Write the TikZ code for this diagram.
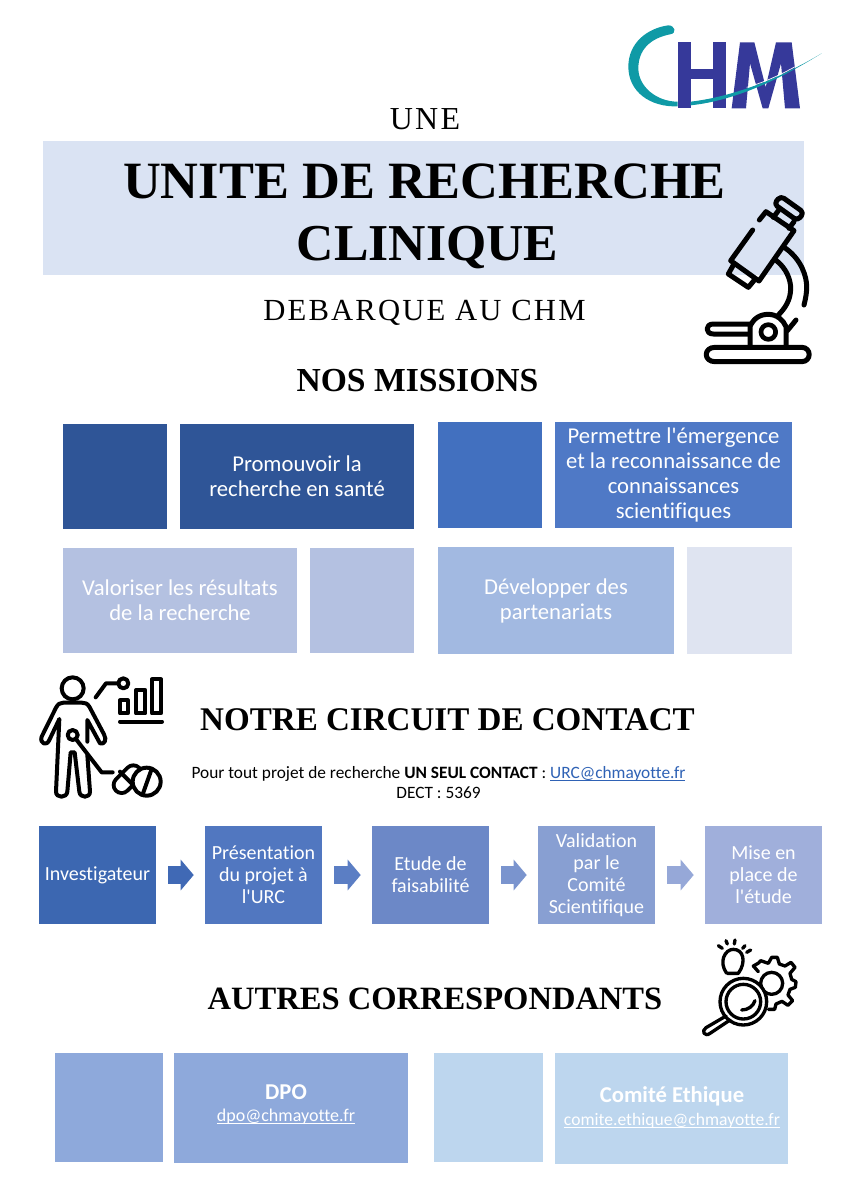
\documentclass[tikz,border=0pt]{standalone}
\usepackage{fontspec}
\usetikzlibrary{arrows.meta}
\newfontfamily\bodyf[Ligatures=NoCommon]{Carlito}
\newfontfamily\heading{Liberation Serif}
\newfontfamily\lighthead[LetterSpace=7]{Liberation Serif}
\AtBeginDocument{\bodyf}
\definecolor{band}{HTML}{DAE3F3}
\definecolor{mA}{HTML}{2F5597}
\definecolor{mB}{HTML}{4F79C6}
\definecolor{mBl}{HTML}{4270BF}
\definecolor{mC}{HTML}{B4C1E1}
\definecolor{mD}{HTML}{A2B9E1}
\definecolor{mE}{HTML}{DFE4F1}
\definecolor{cA}{HTML}{3C67B1}
\definecolor{cB}{HTML}{5177C0}
\definecolor{cC}{HTML}{6C88C7}
\definecolor{cD}{HTML}{889FD2}
\definecolor{cE}{HTML}{A0AFDB}
\definecolor{arA}{HTML}{4069B5}
\definecolor{arB}{HTML}{5B7EC4}
\definecolor{arC}{HTML}{7A94CE}
\definecolor{arD}{HTML}{96A8D8}
\definecolor{oA}{HTML}{8EA9DB}
\definecolor{oB}{HTML}{BDD6EE}
\definecolor{teal}{HTML}{0F9AA6}
\definecolor{chmblue}{HTML}{36399A}
\definecolor{linkblue}{HTML}{2F62B5}
\newsavebox{\mailbox}
\newcommand{\mailu}[1]{\sbox{\mailbox}{#1}\rlap{\rule[-1.7pt]{\wd\mailbox}{0.6pt}}\usebox{\mailbox}}
\tikzset{
  panel/.style={rectangle,inner sep=0pt,text=white,align=center},
  bodytxt/.style={font=\fontsize{17}{18.75}\selectfont},
  stepbox/.style={panel,minimum width=87.75pt,minimum height=73.5pt,font=\fontsize{15}{16.5}\selectfont},
  flow/.style={line width=13.5pt,-{Triangle[length=9.75pt,width=22.5pt]},shorten <=9pt,shorten >=8.25pt},
  titletxt/.style={inner sep=0pt,align=center},
  icon/.style={line width=3.75pt,line cap=round,line join=round,draw=black,fill=none},
}
\begin{document}
\begin{tikzpicture}[x=0.75pt,y=-0.75pt]
\useasboundingbox (0,0) rectangle (849,1200);
\fill[white] (0,0) rectangle (849,1200);

% band
\node[panel,fill=band,minimum width=570.75pt,minimum height=100.5pt] (bandbox) at (423.5,208) {};

% titles
\node[titletxt] (une) at (425,119) {\lighthead\fontsize{24}{26}\selectfont UNE};
\node[titletxt] (t1) at (424.5,181) {\heading\bfseries\fontsize{39.3}{42}\selectfont UNITE DE RECHERCHE};
\node[titletxt] (t2) at (427.5,248) {\heading\bfseries\fontsize{38.8}{42}\selectfont CLINIQUE};
\node[titletxt] (t3) at (424.5,313) {\lighthead\fontsize{23}{26}\selectfont DEBARQUE AU CHM};
\node[titletxt] (t4) at (417.5,381) {\heading\bfseries\fontsize{25.2}{28}\selectfont NOS MISSIONS};
\node[titletxt] (t5) at (447.5,720) {\heading\bfseries\fontsize{24.8}{28}\selectfont NOTRE CIRCUIT DE CONTACT};
\node[titletxt] (t6) at (435,999) {\heading\bfseries\fontsize{24.4}{28}\selectfont AUTRES CORRESPONDANTS};

% missions
\node[panel,fill=mA,minimum width=78pt,minimum height=78.75pt] (m1a) at (115,476.5) {};
\node[panel,fill=mA,minimum width=175.5pt,minimum height=78.75pt,bodytxt] (m1b) at (297,476.5) {Promouvoir la\\recherche en santé};
\node[panel,fill=mBl,minimum width=78pt,minimum height=79.5pt] (m2a) at (490,475) {};
\node[panel,fill=mB,minimum width=177.75pt,minimum height=79.5pt,bodytxt] (m2b) at (673.5,475) {Permettre l'émergence\\et la reconnaissance de\\connaissances\\scientifiques};
\node[panel,fill=mC,minimum width=175.5pt,minimum height=78.75pt,bodytxt] (m3a) at (180,600.5) {Valoriser les résultats\\de la recherche};
\node[panel,fill=mC,minimum width=78pt,minimum height=78.75pt] (m3b) at (362,600.5) {};
\node[panel,fill=mD,minimum width=177pt,minimum height=80.25pt,bodytxt] (m4a) at (556,600.5) {Développer des\\partenariats};
\node[panel,fill=mE,minimum width=78.75pt,minimum height=80.25pt] (m4b) at (739.5,600.5) {};

% contact
\node[titletxt,font=\fontsize{13}{15}\selectfont] (contact) at (438.5,783) {Pour tout projet de recherche \textbf{UN SEUL CONTACT} : \textcolor{linkblue}{\mailu{URC@chmayotte.fr}}\\DECT : 5369};

% flow
\node[stepbox,fill=cA] (s1) at (97.5,875) {Investigateur};
\node[stepbox,fill=cB] (s2) at (263.5,875) {Présentation\\du projet à\\l'URC};
\node[stepbox,fill=cC] (s3) at (430.5,875) {Etude de\\faisabilité};
\node[stepbox,fill=cD] (s4) at (596.5,875) {Validation\\par le\\Comité\\Scientifique};
\node[stepbox,fill=cE] (s5) at (763.5,875) {Mise en\\place de\\l'étude};
\draw[flow,draw=arA] (s1) -- (s2);
\draw[flow,draw=arB] (s2) -- (s3);
\draw[flow,draw=arC] (s3) -- (s4);
\draw[flow,draw=arD] (s4) -- (s5);

% others
\node[panel,fill=oA,minimum width=81pt,minimum height=81.75pt] (o1a) at (109,1107.5) {};
\node[panel,fill=oA,minimum width=175.5pt,minimum height=82.5pt] (o1b) at (291,1108) {};
\node[panel,fill=oB,minimum width=81.75pt,minimum height=81.75pt] (o2a) at (488.5,1107.5) {};
\node[panel,fill=oB,minimum width=174.75pt,minimum height=83.25pt] (o2b) at (671.5,1108.5) {};
\node[titletxt,text=white] (dpo) at (286,1092.5) {\fontsize{17}{19}\selectfont\bfseries DPO};
\node[titletxt,text=white] (dpom) at (286,1117) {\fontsize{13.5}{15}\selectfont\mailu{dpo@chmayotte.fr}};
\node[titletxt,text=white] (ce) at (672,1096) {\fontsize{17}{19}\selectfont\bfseries Comité Ethique};
\node[titletxt,text=white] (cem) at (672,1121) {\fontsize{13.2}{15}\selectfont\mailu{comite.ethique@chmayotte.fr}};

% logo
\begin{scope}[shift={(600,0)},x=0.25pt,y=-0.25pt]
  \fill[chmblue] (233,127) rectangle (272,325);
  \fill[chmblue] (338,127) rectangle (378,325);
  \fill[chmblue] (272,208) rectangle (338,238);
  \fill[chmblue] (395,325) -- (420,127) -- (463,127) -- (497,262) -- (528,127) -- (575,127) -- (600,325) -- (555,325) -- (543,190) -- (505,325) -- (488,325) -- (450,190) -- (438,325) -- cycle;
  \fill[teal] (205,76) .. controls (225,76) and (232,100) .. (210,103)
     .. controls (150,115) and (115,150) .. (115,205)
     .. controls (115,260) and (170,305) .. (233,305)
     -- (233,319) .. controls (150,322) and (85,275) .. (85,200)
     .. controls (85,130) and (140,85) .. (205,76) -- cycle;
  \fill[teal] (272,305) .. controls (400,290) and (540,235) .. (665,160)
     .. controls (560,225) and (420,300) .. (272,316) -- cycle;
  \draw[white,line width=0.5pt] (440,262) .. controls (500,245) and (550,220) .. (600,192);
\end{scope}

% microscope
\begin{scope}[shift={(690,180)},x=0.25pt,y=-0.25pt]
  \draw[icon,rounded corners=3pt] (272,48) -- (342,98) -- (322,122) -- (252,72) -- cycle;
  \draw[icon] (265,92) -- (250,112);
  \draw[icon] (312,125) -- (297,145);
  \draw[icon] (208,120) -- (228,95) -- (312,152) -- (207,303) -- (122,242) -- (188,150);
  \draw[icon] (130,255) -- (115,282) -- (175,322) -- (195,298);
  \draw[icon] (287,205) .. controls (335,240) and (350,290) .. (350,320) .. controls (350,340) and (347,355) .. (342,375);
  \draw[icon] (257,240) .. controls (290,265) and (302,300) .. (302,325) .. controls (302,360) and (285,385) .. (265,405);
  \draw[icon] (318,420) -- (292,452);
  \draw[icon] (178,432) -- (70,432) .. controls (45,432) and (45,462) .. (70,462) -- (178,462);
  \draw[icon] (75,502) -- (335,502) .. controls (365,502) and (365,545) .. (335,545) -- (75,545) .. controls (40,545) and (40,502) .. (75,502) -- cycle;
  \draw[icon] (180,497) -- (180,440) .. controls (190,415) and (210,403) .. (235,403) .. controls (260,403) and (280,420) .. (288,440) -- (288,497);
  \draw[icon,line width=3.5pt] (235,456) circle (22);
\end{scope}

% person
\begin{scope}[shift={(30,665)},x=0.25pt,y=-0.25pt]
  \tikzset{inkline/.style={line width=3pt,line cap=round,line join=round,draw=black}}
  \draw[inkline] (128,70) circle (33);
  \draw[inkline] (172,230) -- (172,165) -- (210,235) .. controls (222,240) and (232,225) .. (222,208) -- (178,125) .. controls (172,115) and (165,113) .. (155,113) -- (100,113) .. controls (90,113) and (84,117) .. (78,128) -- (35,215) .. controls (28,235) and (50,245) .. (58,225) -- (88,162) -- (78,380) .. controls (78,400) and (110,400) .. (112,380) -- (122,262) -- (134,262) -- (148,380) .. controls (150,400) and (180,400) .. (180,380) -- (172,270);
  \draw[inkline,fill=white] (128,210) circle (15);
  \draw[inkline] (140,225) -- (215,322) -- (248,322);
  \draw[inkline] (197,97) -- (228,55) -- (263,55);
  \draw[inkline] (280,55) circle (15);
  \draw[inkline] (270,106) rectangle (293,145);
  \draw[inkline] (318,75) rectangle (346,145);
  \draw[inkline] (366,43) rectangle (393,145);
  \draw[inkline] (270,170) -- (396,170);
  \draw[line width=15pt,line cap=round,draw=black] (275,360) -- (310,325);
  \draw[line width=9pt,line cap=round,draw=white] (275,360) -- (310,325);
  \draw[inkline] (270,320) -- (314,364);
  \draw[inkline,fill=white] (350,350) circle (42);
  \draw[inkline] (338,388) -- (365,312);
\end{scope}

% magnifier + gear
\begin{scope}[shift={(690,930)},x=0.25pt,y=-0.25pt]
  \tikzset{inkline/.style={line width=2.5pt,line cap=round,line join=round,draw=black}}
  \draw[inkline] (245,160) circle (33);
  \draw[inkline] (204,100) -- (190,108) -- (205,125);
  \draw[inkline] (205,100) -- (212,92) -- (235,100) -- (245,82) -- (262,82) -- (268,102) -- (285,108) -- (303,97) -- (315,112) -- (300,130) -- (305,148) -- (318,155) -- (316,172) -- (300,178) -- (294,195) -- (308,212) -- (294,226) -- (276,214) -- (258,222) -- (254,238) -- (235,238);
  \draw[inkline] (110,130) .. controls (85,95) and (105,58) .. (130,58) .. controls (160,58) and (170,95) .. (145,130) -- (112,130);
  \draw[inkline,fill=white] (160,215) circle (70);
  \draw[inkline] (160,215) circle (52);
  \draw[inkline] (155,240) .. controls (175,240) and (190,228) .. (195,212);
  \draw[inkline] (108,258) -- (48,293) .. controls (32,303) and (45,322) .. (60,310) -- (120,270);
  \draw[inkline] (85,47) -- (97,55);
  \draw[inkline] (108,32) -- (112,42);
  \draw[inkline] (135,30) -- (133,42);
  \draw[inkline] (165,47) -- (158,55);
  \draw[inkline] (182,60) -- (170,67);
\end{scope}
\end{tikzpicture}
\end{document}
